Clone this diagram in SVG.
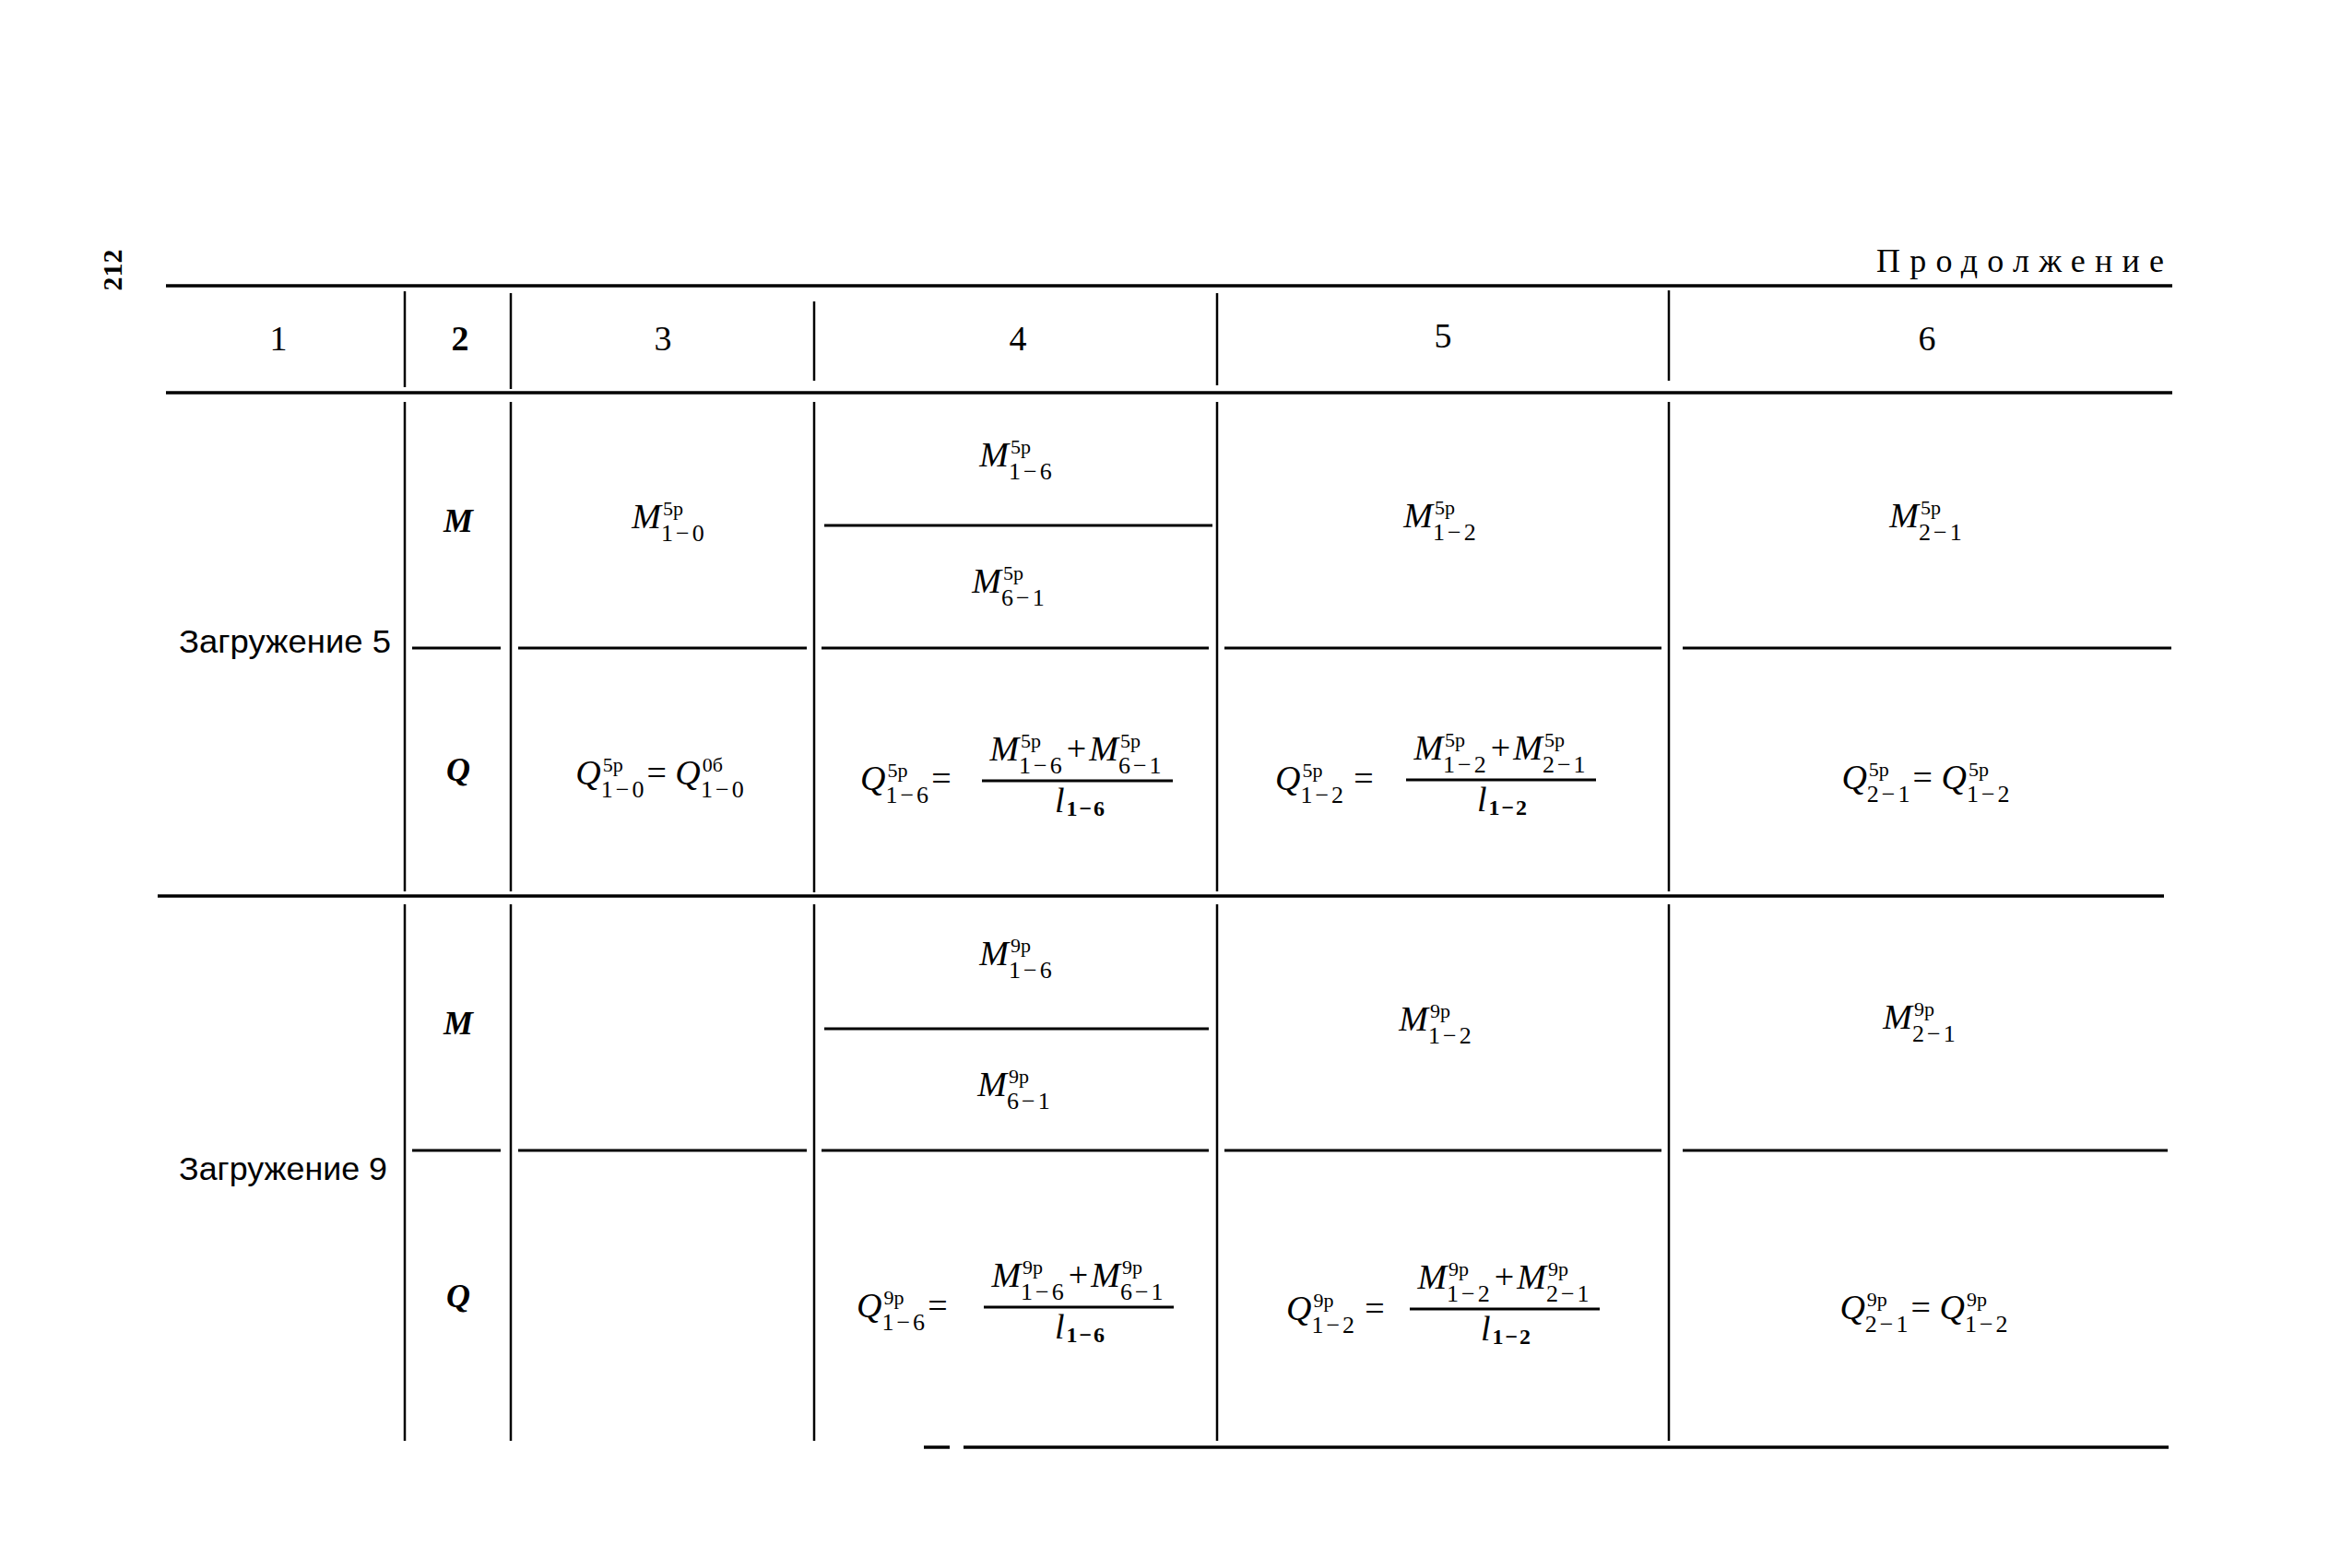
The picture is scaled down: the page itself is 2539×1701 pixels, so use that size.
<svg xmlns="http://www.w3.org/2000/svg" width="2539" height="1701" viewBox="0 0 2539 1701">
<style>
.bg{fill:#fff}
.hl{stroke:#000;stroke-width:3.5;fill:none}
.sl{stroke:#000;stroke-width:3;fill:none}
.vl{stroke:#000;stroke-width:2.5;fill:none}
.fb{stroke:#000;stroke-width:3;fill:none}
text{font-family:"Liberation Serif","Times New Roman",serif;fill:#000}
.hd{font-size:38px}
.cap{font-size:36px}
.lbl{font-family:"Liberation Sans",Arial,sans-serif;font-size:35px}
.pg{font-size:30px;font-weight:bold}
.rc{font-size:36px;font-style:italic;font-weight:bold}
.f{font-size:38px;font-style:italic}
.sp{font-size:22px;font-style:normal}
.sb{font-size:26px;font-style:normal;letter-spacing:3px}
.sd{font-size:24px;font-style:normal;font-weight:bold;letter-spacing:2px}
.n{font-style:normal}
</style>
<rect class="bg" x="0" y="0" width="2539" height="1701"/>

<g id="page-number">
<text class="pg" x="121" y="304" text-anchor="middle" transform="rotate(-90 121 293)">212</text>
</g>
<g id="title">
<text class="cap" x="2035" y="295" textLength="312" lengthAdjust="spacing">Продолжение</text>
</g>

<g id="grid">
<line class="hl" x1="180" y1="310" x2="2356" y2="310"/>
<line class="hl" x1="180" y1="426" x2="2356" y2="426"/>
<line class="hl" x1="171" y1="972" x2="2347" y2="972"/>
<line class="hl" x1="1002" y1="1570" x2="1030" y2="1570"/>
<line class="hl" x1="1045" y1="1570" x2="2352" y2="1570"/>

<line class="sl" x1="447" y1="703" x2="543" y2="703"/>
<line class="sl" x1="562" y1="703" x2="875" y2="703"/>
<line class="sl" x1="891" y1="703" x2="1311" y2="703"/>
<line class="sl" x1="1328" y1="703" x2="1802" y2="703"/>
<line class="sl" x1="1825" y1="703" x2="2355" y2="703"/>
<line class="sl" x1="894" y1="570" x2="1315" y2="570"/>

<line class="sl" x1="447" y1="1248" x2="543" y2="1248"/>
<line class="sl" x1="562" y1="1248" x2="875" y2="1248"/>
<line class="sl" x1="891" y1="1248" x2="1311" y2="1248"/>
<line class="sl" x1="1328" y1="1248" x2="1802" y2="1248"/>
<line class="sl" x1="1825" y1="1248" x2="2351" y2="1248"/>
<line class="sl" x1="894" y1="1116" x2="1311" y2="1116"/>

<line class="vl" x1="439" y1="316" x2="439" y2="420"/>
<line class="vl" x1="554" y1="318" x2="554" y2="422"/>
<line class="vl" x1="883" y1="327" x2="883" y2="413"/>
<line class="vl" x1="1320" y1="318" x2="1320" y2="418"/>
<line class="vl" x1="1810" y1="315" x2="1810" y2="413"/>

<line class="vl" x1="439" y1="436" x2="439" y2="967"/>
<line class="vl" x1="554" y1="436" x2="554" y2="967"/>
<line class="vl" x1="883" y1="436" x2="883" y2="968"/>
<line class="vl" x1="1320" y1="436" x2="1320" y2="967"/>
<line class="vl" x1="1810" y1="436" x2="1810" y2="967"/>

<line class="vl" x1="439" y1="981" x2="439" y2="1563"/>
<line class="vl" x1="554" y1="981" x2="554" y2="1563"/>
<line class="vl" x1="883" y1="981" x2="883" y2="1563"/>
<line class="vl" x1="1320" y1="981" x2="1320" y2="1563"/>
<line class="vl" x1="1810" y1="981" x2="1810" y2="1563"/>
</g>

<g id="header">
<text class="hd" x="302" y="380" text-anchor="middle">1</text>
<text class="hd" x="499" y="380" text-anchor="middle" font-weight="bold">2</text>
<text class="hd" x="719" y="380" text-anchor="middle">3</text>
<text class="hd" x="1104" y="380" text-anchor="middle">4</text>
<text class="hd" x="1565" y="377" text-anchor="middle">5</text>
<text class="hd" x="2090" y="380" text-anchor="middle">6</text>
</g>

<g id="load5">
<text class="lbl" x="194" y="708" textLength="230" lengthAdjust="spacingAndGlyphs">Загружение 5</text>
<text class="rc" x="497" y="577" text-anchor="middle">M</text>
<text class="rc" x="497" y="847" text-anchor="middle">Q</text>
</g>

<g id="load5-M">
<text class="f" x="726" y="573" text-anchor="middle">M<tspan class="sp" dx="2" dy="-14">5p</tspan><tspan class="sb" dx="-24" dy="28">1−0</tspan></text>
<text class="f" x="1103" y="506" text-anchor="middle">M<tspan class="sp" dx="2" dy="-14">5p</tspan><tspan class="sb" dx="-24" dy="28">1−6</tspan></text>
<text class="f" x="1095" y="643" text-anchor="middle">M<tspan class="sp" dx="2" dy="-14">5p</tspan><tspan class="sb" dx="-24" dy="28">6−1</tspan></text>
<text class="f" x="1563" y="572" text-anchor="middle">M<tspan class="sp" dx="2" dy="-14">5p</tspan><tspan class="sb" dx="-24" dy="28">1−2</tspan></text>
<text class="f" x="2090" y="572" text-anchor="middle">M<tspan class="sp" dx="2" dy="-14">5p</tspan><tspan class="sb" dx="-24" dy="28">2−1</tspan></text>
</g>

<g id="load5-Q">
<text class="f" x="717" y="851" text-anchor="middle">Q<tspan class="sp" dx="2" dy="-14">5p</tspan><tspan class="sb" dx="-24" dy="28">1−0</tspan><tspan class="n" dy="-14">= </tspan>Q<tspan class="sp" dx="2" dy="-14">0б</tspan><tspan class="sb" dx="-24" dy="28">1−0</tspan></text>

<text class="f" x="933" y="857">Q<tspan class="sp" dx="2" dy="-14">5p</tspan><tspan class="sb" dx="-24" dy="28">1−6</tspan><tspan class="n" dy="-14">=</tspan></text>
<line class="fb" x1="1065" y1="847" x2="1272" y2="847"/>
<text class="f" x="1168" y="825" text-anchor="middle">M<tspan class="sp" dx="2" dy="-14">5p</tspan><tspan class="sb" dx="-24" dy="28">1−6</tspan><tspan class="n" dx="2" dy="-14">+</tspan><tspan dx="3">M</tspan><tspan class="sp" dx="2" dy="-14">5p</tspan><tspan class="sb" dx="-24" dy="28">6−1</tspan></text>
<text class="f" x="1172" y="881" text-anchor="middle">l<tspan class="sd" dx="2" dy="4">1−6</tspan></text>

<text class="f" x="1383" y="857">Q<tspan class="sp" dx="2" dy="-14">5p</tspan><tspan class="sb" dx="-24" dy="28">1−2</tspan><tspan class="n" dx="8" dy="-14">=</tspan></text>
<line class="fb" x1="1525" y1="846" x2="1731" y2="846"/>
<text class="f" x="1628" y="824" text-anchor="middle">M<tspan class="sp" dx="2" dy="-14">5p</tspan><tspan class="sb" dx="-24" dy="28">1−2</tspan><tspan class="n" dx="2" dy="-14">+</tspan><tspan dx="3">M</tspan><tspan class="sp" dx="2" dy="-14">5p</tspan><tspan class="sb" dx="-24" dy="28">2−1</tspan></text>
<text class="f" x="1630" y="880" text-anchor="middle">l<tspan class="sd" dx="2" dy="4">1−2</tspan></text>

<text class="f" x="2090" y="856" text-anchor="middle">Q<tspan class="sp" dx="2" dy="-14">5p</tspan><tspan class="sb" dx="-24" dy="28">2−1</tspan><tspan class="n" dy="-14">= </tspan>Q<tspan class="sp" dx="2" dy="-14">5p</tspan><tspan class="sb" dx="-24" dy="28">1−2</tspan></text>
</g>

<g id="load9">
<text class="lbl" x="194" y="1280" textLength="226" lengthAdjust="spacingAndGlyphs">Загружение 9</text>
<text class="rc" x="497" y="1122" text-anchor="middle">M</text>
<text class="rc" x="497" y="1418" text-anchor="middle">Q</text>
</g>

<g id="load9-M">
<text class="f" x="1103" y="1047" text-anchor="middle">M<tspan class="sp" dx="2" dy="-14">9p</tspan><tspan class="sb" dx="-24" dy="28">1−6</tspan></text>
<text class="f" x="1101" y="1189" text-anchor="middle">M<tspan class="sp" dx="2" dy="-14">9p</tspan><tspan class="sb" dx="-24" dy="28">6−1</tspan></text>
<text class="f" x="1558" y="1118" text-anchor="middle">M<tspan class="sp" dx="2" dy="-14">9p</tspan><tspan class="sb" dx="-24" dy="28">1−2</tspan></text>
<text class="f" x="2083" y="1116" text-anchor="middle">M<tspan class="sp" dx="2" dy="-14">9p</tspan><tspan class="sb" dx="-24" dy="28">2−1</tspan></text>
</g>

<g id="load9-Q">
<text class="f" x="929" y="1429">Q<tspan class="sp" dx="2" dy="-14">9p</tspan><tspan class="sb" dx="-24" dy="28">1−6</tspan><tspan class="n" dy="-14">=</tspan></text>
<line class="fb" x1="1067" y1="1418" x2="1273" y2="1418"/>
<text class="f" x="1170" y="1396" text-anchor="middle">M<tspan class="sp" dx="2" dy="-14">9p</tspan><tspan class="sb" dx="-24" dy="28">1−6</tspan><tspan class="n" dx="2" dy="-14">+</tspan><tspan dx="3">M</tspan><tspan class="sp" dx="2" dy="-14">9p</tspan><tspan class="sb" dx="-24" dy="28">6−1</tspan></text>
<text class="f" x="1172" y="1452" text-anchor="middle">l<tspan class="sd" dx="2" dy="4">1−6</tspan></text>

<text class="f" x="1395" y="1432">Q<tspan class="sp" dx="2" dy="-14">9p</tspan><tspan class="sb" dx="-24" dy="28">1−2</tspan><tspan class="n" dx="8" dy="-14">=</tspan></text>
<line class="fb" x1="1529" y1="1420" x2="1735" y2="1420"/>
<text class="f" x="1632" y="1398" text-anchor="middle">M<tspan class="sp" dx="2" dy="-14">9p</tspan><tspan class="sb" dx="-24" dy="28">1−2</tspan><tspan class="n" dx="2" dy="-14">+</tspan><tspan dx="3">M</tspan><tspan class="sp" dx="2" dy="-14">9p</tspan><tspan class="sb" dx="-24" dy="28">2−1</tspan></text>
<text class="f" x="1634" y="1454" text-anchor="middle">l<tspan class="sd" dx="2" dy="4">1−2</tspan></text>

<text class="f" x="2088" y="1431" text-anchor="middle">Q<tspan class="sp" dx="2" dy="-14">9p</tspan><tspan class="sb" dx="-24" dy="28">2−1</tspan><tspan class="n" dy="-14">= </tspan>Q<tspan class="sp" dx="2" dy="-14">9p</tspan><tspan class="sb" dx="-24" dy="28">1−2</tspan></text>
</g>
</svg>
